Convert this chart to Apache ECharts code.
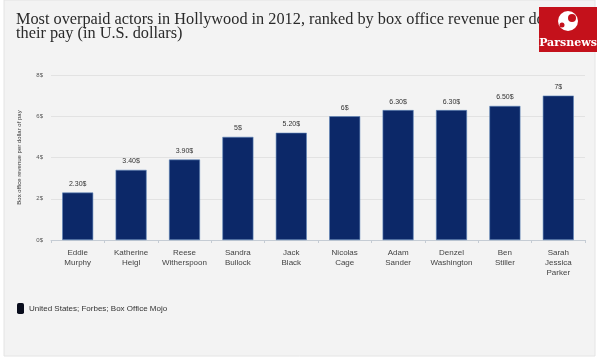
<!DOCTYPE html>
<html>
<head>
<meta charset="utf-8">
<script src="https://cdn.jsdelivr.net/npm/echarts@6/dist/echarts.min.js"></script>
<style>
html,body{margin:0;padding:0;background:#ffffff;}
#chart{width:600px;height:360px;}
</style>
</head>
<body>
<div id="chart"></div>
<script>
const categories = ["Eddie\nMurphy","Katherine\nHeigl","Reese\nWitherspoon","Sandra\nBullock","Jack\nBlack","Nicolas\nCage","Adam\nSander","Denzel\nWashington","Ben\nStiller","Sarah\nJessica\nParker"];
const values = [2.30, 3.40, 3.90, 5, 5.20, 6, 6.30, 6.30, 6.50, 7];
const valueLabels = ["2.30$","3.40$","3.90$","5$","5.20$","6$","6.30$","6.30$","6.50$","7$"];
const seriesName = "United States; Forbes; Box Office Mojo";
const titleText = "Most overpaid actors in Hollywood in 2012, ranked by box office revenue per dollar of\ntheir pay (in U.S. dollars)";
const yAxisName = "Box office revenue per dollar of pay";

const chart = echarts.init(document.getElementById('chart'), null, {renderer:'canvas'});
chart.setOption({
  backgroundColor: '#ffffff',
  animation: false,
  graphic: [
    {type:'rect', z:-10, shape:{x:4,y:0,width:591,height:356}, style:{fill:'#f3f3f3', stroke:'#e4e4e4', lineWidth:1}},
    {type:'rect', zlevel:2, z:100, shape:{x:539,y:7,width:58,height:45}, style:{fill:'#c4111b'}},
    {type:'circle', zlevel:2, z:101, shape:{cx:568,cy:21,r:10}, style:{fill:'#ffffff'}},
    {type:'circle', zlevel:2, z:102, shape:{cx:572,cy:18,r:4}, style:{fill:'#c4111b'}},
    {type:'circle', zlevel:2, z:102, shape:{cx:562,cy:25,r:2.5}, style:{fill:'#c4111b'}},
    {type:'text', zlevel:2, z:103, x:568, y:43, style:{text:'Parsnews', fill:'#ffffff', font:'bold 11px "DejaVu Serif"', align:'center', verticalAlign:'middle'}}
  ],
  title: {
    text: titleText,
    left: 11, top: 8,
    textStyle: {fontFamily:'"Liberation Serif", serif', fontSize:16.3, fontWeight:'normal', color:'#2a2a2a', lineHeight:14}
  },
  legend: {
    left: 12, top: 298,
    itemWidth: 7, itemHeight: 11,
    icon: 'roundRect',
    itemStyle: {color:'#080c1c', borderWidth:0},
    textStyle: {fontSize:8, color:'#333', fontFamily:'"Liberation Sans", Arial'},
    data: [seriesName]
  },
  grid: {left:51, right:15, top:75, bottom:120},
  xAxis: {
    type:'category',
    data: categories,
    axisLine:{lineStyle:{color:'#c5ccd4'}},
    axisTick:{show:true, length:3, lineStyle:{color:'#c5ccd4'}},
    axisLabel:{fontSize:8, color:'#444', lineHeight:10, margin:8, interval:0, fontFamily:'"Liberation Sans", Arial'}
  },
  yAxis: {
    type:'value', min:0, max:8, interval:2,
    name: yAxisName,
    nameLocation:'middle', nameGap:29, nameRotate:90,
    nameTextStyle:{fontSize:6, color:'#333', fontFamily:'"Liberation Sans", Arial'},
    axisLabel:{formatter:'{value}$', fontSize:6, color:'#555', margin:8, fontFamily:'"Liberation Sans", Arial'},
    axisLine:{show:false}, axisTick:{show:false},
    splitLine:{lineStyle:{color:'#e2e2e2'}}
  },
  series: [{
    name: seriesName,
    type:'bar',
    data: values,
    barWidth: 31,
    itemStyle:{color:'#0c2868', borderColor:'#5e85b8', borderWidth:0.6},
    label:{show:true, position:'top', distance:5, fontSize:7, color:'#333', fontFamily:'"Liberation Sans", Arial',
      formatter: p => valueLabels[p.dataIndex]}
  }]
});
</script>
</body>
</html>
